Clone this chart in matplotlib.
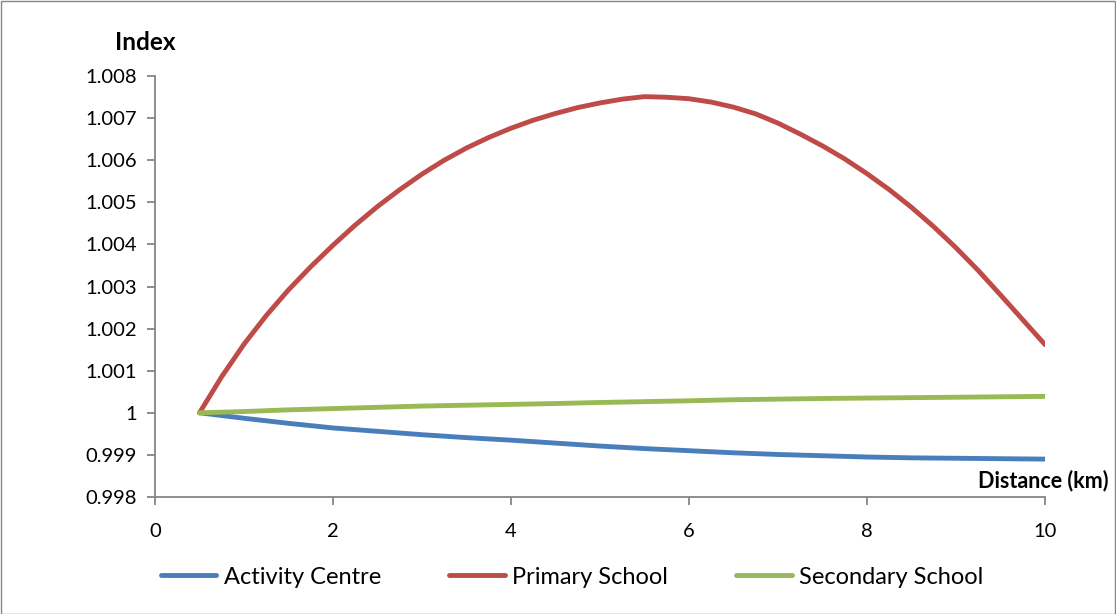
import numpy as np
import matplotlib.pyplot as plt
from matplotlib.patches import Rectangle

plt.rcParams['font.family'] = ['Lato', 'DejaVu Sans']

# distance (km)
distance = [0.5, 1.0, 1.5, 2.0, 2.5, 3.0, 3.5, 4.0, 4.5, 5.0,
            5.5, 6.0, 6.5, 7.0, 7.5, 8.0, 8.5, 9.0, 9.5, 10.0]

activity_centre = [1.0, 0.99987, 0.99975, 0.99964, 0.99956, 0.99948, 0.99941,
                   0.99935, 0.99928, 0.99921, 0.99915, 0.99910, 0.99905,
                   0.99901, 0.99898, 0.99895, 0.99893, 0.99892, 0.99891, 0.99890]

secondary_school = [1.0, 1.00003, 1.00007, 1.00010, 1.00013, 1.00016, 1.00018,
                    1.00020, 1.00022, 1.000245, 1.000265, 1.000285, 1.00031,
                    1.000325, 1.00034, 1.00035, 1.00036, 1.00037, 1.00038, 1.00039]

# primary school read at a finer step (curve bends a lot)
distance_fine = [0.5, 0.75, 1.0, 1.25, 1.5, 1.75, 2.0, 2.25, 2.5, 2.75,
                 3.0, 3.25, 3.5, 3.75, 4.0, 4.25, 4.5, 4.75, 5.0, 5.25,
                 5.5, 5.75, 6.0, 6.25, 6.5, 6.75, 7.0, 7.25, 7.5, 7.75,
                 8.0, 8.25, 8.5, 8.75, 9.0, 9.25, 9.5, 9.75, 10.0]

primary_school = [1.0, 1.00086, 1.00163, 1.00231, 1.00292, 1.00347, 1.00398,
                  1.00446, 1.00490, 1.00530, 1.00567, 1.00600, 1.00629,
                  1.00654, 1.00676, 1.00695, 1.00711, 1.00725, 1.00736,
                  1.00745, 1.00751, 1.007495, 1.00746, 1.00738, 1.00726,
                  1.00710, 1.00688, 1.00662, 1.00634, 1.00603, 1.00568,
                  1.00530, 1.00488, 1.00442, 1.00392, 1.00338, 1.00280,
                  1.00221, 1.00162]

series_names = ['Activity Centre', 'Primary School', 'Secondary School']
colors = ['#4A7EBB', '#BE4B48', '#98B954']

xticks = [0, 2, 4, 6, 8, 10]
yticks = [0.998, 0.999, 1, 1.001, 1.002, 1.003, 1.004, 1.005, 1.006, 1.007, 1.008]
ytick_labels = ['0.998', '0.999', '1', '1.001', '1.002', '1.003',
                '1.004', '1.005', '1.006', '1.007', '1.008']

fig = plt.figure(figsize=(11.16, 6.14), dpi=100)
ax = fig.add_axes([155/1116, 1 - 497/614, 890/1116, 421/614])

xs = [distance, distance_fine, distance]
ys = [activity_centre, primary_school, secondary_school]
for x, vals, name, c in zip(xs, ys, series_names, colors):
    ax.plot(x, vals, color=c, lw=3.5, label=name,
            solid_capstyle='round', solid_joinstyle='round')

ax.set_xlim(0, 10)
ax.set_ylim(0.998, 1.008)
ax.set_xticks(xticks)
ax.set_xticklabels([str(t) for t in xticks])
ax.set_yticks(yticks)
ax.set_yticklabels(ytick_labels)

axis_col = '#868686'
for s in ['top', 'right']:
    ax.spines[s].set_visible(False)
for s in ['left', 'bottom']:
    ax.spines[s].set_color(axis_col)
    ax.spines[s].set_linewidth(1.3)
ax.tick_params(axis='both', colors=axis_col, labelcolor='black',
               labelsize=14.5, length=6, width=1.3)
ax.tick_params(axis='x', pad=13)
ax.tick_params(axis='y', pad=7)

fig.text(115/1116, 1 - 42/614, 'Index', fontsize=17.5, fontweight='bold',
         ha='left', va='center')
fig.text(1108/1116, 1 - 481/614, 'Distance (km)', fontsize=15.5,
         fontweight='bold', ha='right', va='center')

fig.legend(loc='center', bbox_to_anchor=(572/1116, 1 - 577/614), ncol=3,
           frameon=False, fontsize=17, handlelength=2.35, handletextpad=0.3,
           columnspacing=2.9)

fig.add_artist(Rectangle((0.5/1116, 0.5/614), 1 - 1.5/1116, 1 - 1.5/614,
                         transform=fig.transFigure, fill=False,
                         edgecolor=axis_col, lw=1))

fig.savefig('out.png', dpi=100)
